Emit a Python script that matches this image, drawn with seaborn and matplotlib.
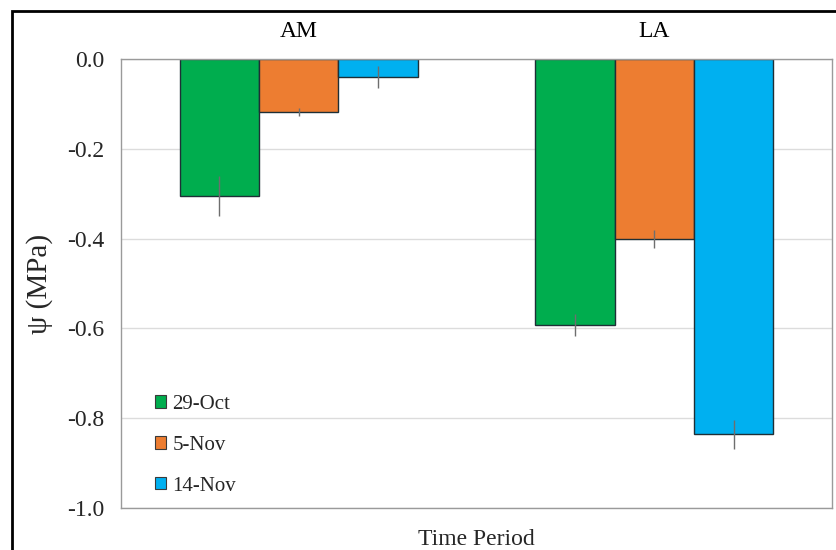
import matplotlib
matplotlib.use("Agg")
import matplotlib.pyplot as plt
import matplotlib.patches as mpatches
import numpy as np
import pandas as pd
import seaborn as sns

# Water potential by time period and sampling date
periods = ["AM", "LA"]
dates = ["29-Oct", "5-Nov", "14-Nov"]
am_values = [-0.305, -0.118, -0.040]
la_values = [-0.592, -0.400, -0.836]
am_errors = [0.045, 0.009, 0.025]
la_errors = [0.025, 0.020, 0.033]
colors = ["#00AD4E", "#ED7D31", "#00B0F0"]
y_ticks = [0.0, -0.2, -0.4, -0.6, -0.8, -1.0]

rows = []
for period, vals, errs in [("AM", am_values, am_errors), ("LA", la_values, la_errors)]:
    for d, v, e in zip(dates, vals, errs):
        rows.append({"period": period, "date": d, "psi": v, "err": e})
df = pd.DataFrame(rows)

sns.set_theme(style="white")
plt.rcParams["font.family"] = ["Liberation Serif", "DejaVu Serif"]

fig = plt.figure(figsize=(8.37, 5.5), dpi=100)
ax = fig.add_axes([121 / 837, 1 - 508 / 550, (832 - 121) / 837, (508 - 59) / 550])

sns.barplot(data=df, x="period", y="psi", hue="date", order=periods,
            hue_order=dates, palette=colors, saturation=1, width=0.67,
            errorbar=None, edgecolor="#1e2f36", linewidth=1.0, ax=ax,
            legend=False, zorder=2)

# error bars placed at each bar's centre
for container, d in zip(ax.containers, dates):
    sub = df[df["date"] == d].set_index("period").loc[periods]
    xs = [p.get_x() + p.get_width() / 2 for p in container.patches]
    ax.errorbar(xs, sub["psi"].values, yerr=sub["err"].values, fmt="none",
                ecolor="#6e6e6e", elinewidth=1.0, capsize=0, zorder=3)

ax.set_xlim(-0.5, 1.5)
ax.set_ylim(-1.0, 0.0)
ax.set_yticks(y_ticks)
ax.set_yticklabels([f"{t:.1f}" for t in y_ticks])
ax.yaxis.grid(True, color="#dcdcdc", linewidth=1.0, zorder=0)
ax.set_axisbelow(True)

ax.xaxis.tick_top()
ax.tick_params(axis="x", length=0, labelsize=17, pad=12, colors="black")
ax.tick_params(axis="y", length=4, width=0.8, color="#8c8c8c", labelsize=17,
               pad=8, direction="out")
ax.set_xlabel("Time Period", fontsize=17, labelpad=15)
ax.xaxis.set_label_position("bottom")
ax.set_ylabel("ψ (MPa)", fontsize=21, labelpad=10)

for s in ax.spines.values():
    s.set_visible(True)
    s.set_color("#9a9a9a")
    s.set_linewidth(1.0)

handles = [mpatches.Patch(facecolor=c, edgecolor="#3a3a3a", linewidth=0.8, label=d)
           for c, d in zip(colors, dates)]
ax.legend(handles=handles, loc="lower left", bbox_to_anchor=(0.021, -0.014),
          frameon=False, fontsize=15, handlelength=0.55, handleheight=0.55,
          handletextpad=0.3, labelspacing=1.05)

# outer frame around the figure
fig.patches.append(mpatches.Rectangle((12 / 837, -0.05), 1.1, 1 - 11 / 550 + 0.05,
                                      transform=fig.transFigure, fill=False,
                                      edgecolor="black", linewidth=2.0))

fig.savefig("out.png", dpi=100)
